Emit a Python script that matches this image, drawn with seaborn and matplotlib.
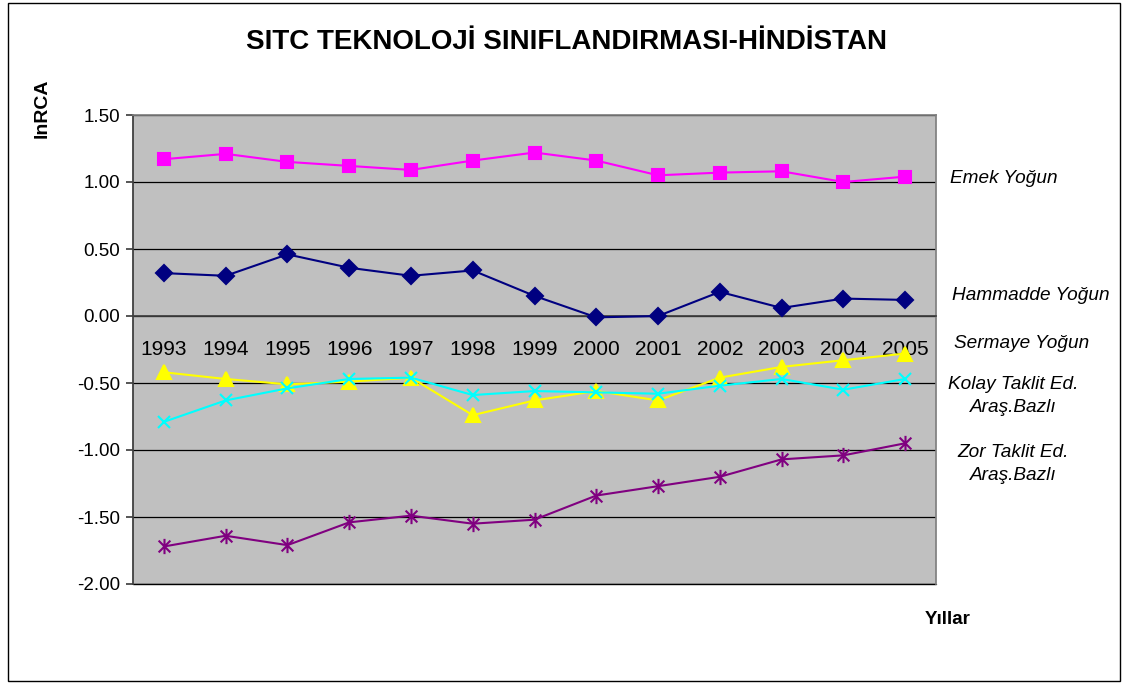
import numpy as np
import pandas as pd
import matplotlib
matplotlib.use("Agg")
import matplotlib.pyplot as plt
from matplotlib.path import Path
from matplotlib.patches import Rectangle
from matplotlib.ticker import FormatStrFormatter, FixedLocator
import seaborn as sns

# --- data ---
years = [1993, 1994, 1995, 1996, 1997, 1998, 1999, 2000, 2001, 2002, 2003, 2004, 2005]
emek = [1.17, 1.21, 1.15, 1.12, 1.09, 1.16, 1.22, 1.16, 1.05, 1.07, 1.08, 1.00, 1.04]
hammadde = [0.32, 0.30, 0.46, 0.36, 0.30, 0.34, 0.15, -0.01, 0.00, 0.18, 0.06, 0.13, 0.12]
sermaye = [-0.42, -0.47, -0.51, -0.49, -0.46, -0.74, -0.63, -0.56, -0.63, -0.46, -0.38, -0.33, -0.28]
kolay = [-0.79, -0.63, -0.54, -0.47, -0.46, -0.59, -0.56, -0.57, -0.58, -0.52, -0.47, -0.55, -0.47]
zor = [-1.72, -1.64, -1.71, -1.54, -1.49, -1.55, -1.52, -1.34, -1.27, -1.20, -1.07, -1.04, -0.95]

series_names = ["Emek Yoğun", "Hammadde Yoğun", "Sermaye Yoğun",
                "Kolay Taklit Ed.\nAraş.Bazlı", "Zor Taklit Ed.\nAraş.Bazlı"]
series_values = [emek, hammadde, sermaye, kolay, zor]
colors = ["#FF00FF", "#000080", "#FFFF00", "#00FFFF", "#800080"]

# Excel-like asterisk marker
asterisk = Path([(-1, -1), (1, 1), (-1, 1), (1, -1), (0, -1.3), (0, 1.3)],
                [Path.MOVETO, Path.LINETO, Path.MOVETO, Path.LINETO, Path.MOVETO, Path.LINETO])
markers = ["s", "D", "^", "x", asterisk]
msizes = [9, 8, 10, 9, 11]

sns.set_theme(style="white")
plt.rcParams["font.family"] = ["Liberation Sans", "DejaVu Sans"]
for key in ["text.color", "axes.labelcolor", "xtick.color", "ytick.color"]:
    plt.rcParams[key] = "black"

W, H = 1125, 684
fig = plt.figure(figsize=(W / 100, H / 100), dpi=100)
ax = fig.add_axes([133 / W, 1 - 584 / H, (936 - 133) / W, (584 - 115) / H])
ax.set_facecolor("#C0C0C0")

pos = np.arange(len(years))
for name, vals, c, m, ms in zip(series_names, series_values, colors, markers, msizes):
    df = pd.DataFrame({"pos": pos, "val": vals})
    sns.lineplot(data=df, x="pos", y="val", color=c, marker=m, markersize=ms,
                 markeredgecolor=c, markerfacecolor=c, markeredgewidth=1.5,
                 linewidth=1.5, ax=ax, legend=False, zorder=3)

ax.set_xlim(-0.5, len(years) - 0.5)
ax.set_ylim(-2.0, 1.5)
ax.set_yticks(np.arange(-2.0, 1.51, 0.5))
ax.yaxis.set_major_formatter(FormatStrFormatter("%.2f"))
ax.grid(axis="y", color="black", linewidth=0.9)
ax.axhline(-2.0, color="black", linewidth=1.0, clip_on=False, zorder=2)
ax.set_axisbelow(True)

# category axis crossing at zero
ax.spines["bottom"].set_position(("data", 0))
ax.spines["bottom"].set_color("#404040")
ax.spines["left"].set_color("#404040")
ax.spines["left"].set_linewidth(1.3)
ax.spines["right"].set_color("#808080")
ax.spines["top"].set_color("#808080")
ax.set_xticks(pos)
ax.set_xticklabels([str(y) for y in years])
ax.xaxis.set_minor_locator(FixedLocator(np.arange(-0.5, len(years), 1.0)))
ax.tick_params(axis="x", which="major", length=0, pad=17, labelsize=15, colors="black")
ax.tick_params(axis="x", which="minor", length=5, direction="out", color="#404040", width=1)
ax.tick_params(axis="y", length=5, direction="out", color="#404040", labelsize=13.5, pad=4,
               left=True, labelcolor="black")
ax.set_xlabel("")
ax.set_ylabel("")

# titles and labels
fig.text(567 / W, 1 - 42 / H, "SITC TEKNOLOJİ SINIFLANDIRMASI-HİNDİSTAN",
         ha="center", va="center", fontsize=20, fontweight="bold")
fig.text(42 / W, 1 - 108 / H, "lnRCA", ha="center", va="center", rotation=90,
         fontsize=14, fontweight="bold")
fig.text(948 / W, 1 - 619 / H, "Yıllar", ha="center", va="center",
         fontsize=13.5, fontweight="bold")

# series labels on the right
label_pos = [(950, 178, "left"), (952, 296, "left"), (954, 344, "left"),
             (1013, 396, "center"), (1013, 464, "center")]
for name, (lx, ly, ha) in zip(series_names, label_pos):
    fig.text(lx / W, 1 - ly / H, name, ha=ha, va="center", fontsize=13.7,
             fontstyle="italic", multialignment="center", linespacing=1.45)

# outer chart border
fig.patches.append(Rectangle((8 / W, 1 - 681 / H), (1120 - 8) / W, (681 - 3) / H,
                             transform=fig.transFigure, fill=False,
                             edgecolor="black", linewidth=1.0))

fig.savefig("out.png", dpi=100, facecolor="white")
